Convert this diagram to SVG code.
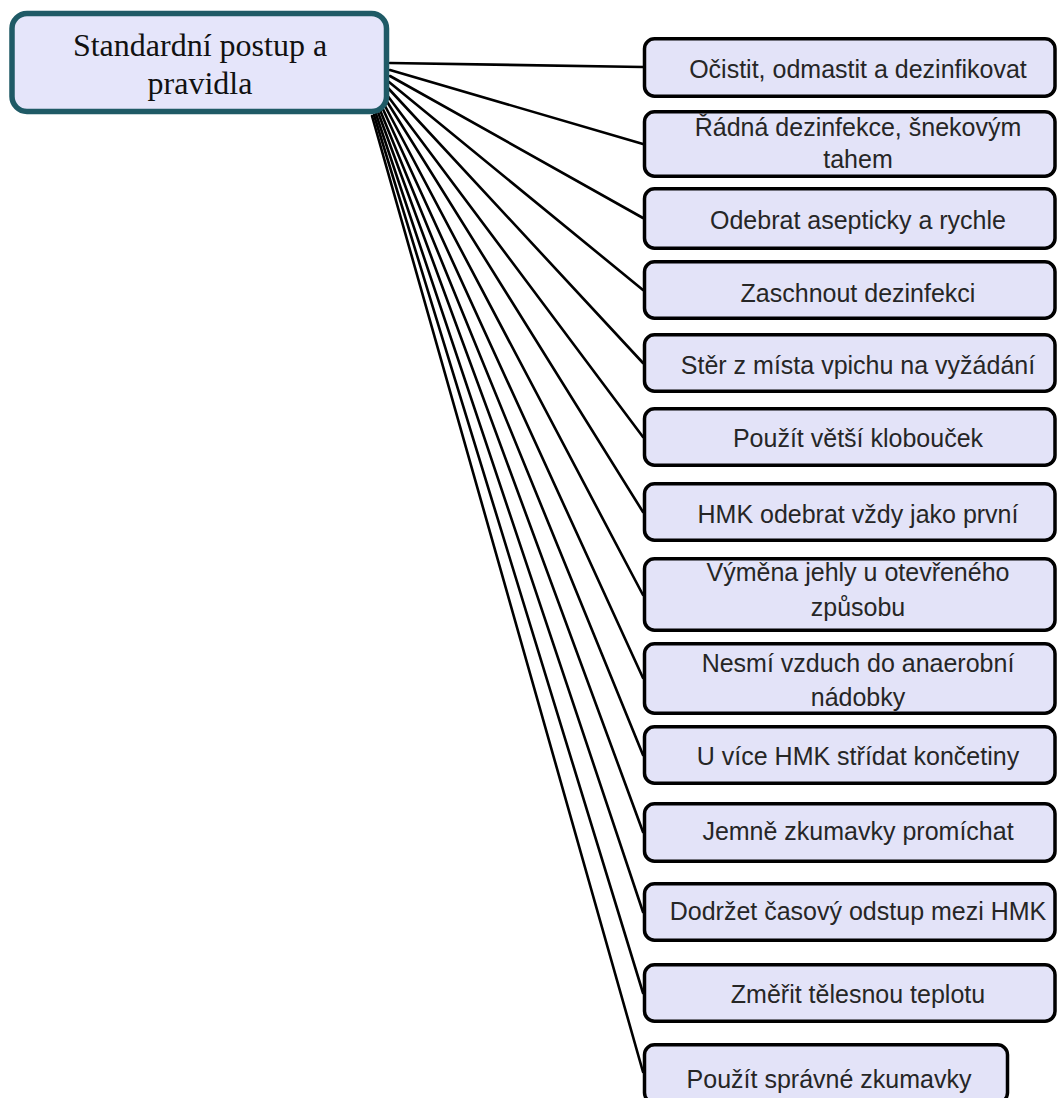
<svg xmlns="http://www.w3.org/2000/svg" width="1059" height="1098" viewBox="0 0 1059 1098">
  <style>
    .root rect { fill: #e5e5fa; stroke: #1f5a66; stroke-width: 5.5; }
    .root text { font-family: "Liberation Serif", "Times New Roman", serif; font-size: 32px; fill: #111; text-anchor: middle; }
    .step rect { fill: #e3e3f8; stroke: #000; stroke-width: 3.5; }
    .step text { font-family: "Liberation Sans", Arial, sans-serif; font-size: 25px; fill: #262626; text-anchor: middle; }
    .links line { stroke: #000; stroke-width: 2.6; stroke-linecap: round; }
  </style>
  <rect width="1059" height="1098" fill="#fff"/>

  <!-- fan of connectors from the root node to each step -->
  <g id="connectors" class="links">
    <line x1="390" y1="63" x2="643" y2="67"/>
    <line x1="390" y1="70" x2="643" y2="144"/>
    <line x1="390" y1="76" x2="643" y2="218"/>
    <line x1="389" y1="82" x2="643" y2="290"/>
    <line x1="388" y1="88" x2="643" y2="363"/>
    <line x1="387" y1="95" x2="643" y2="437"/>
    <line x1="386" y1="100" x2="643" y2="512"/>
    <line x1="384" y1="104" x2="643" y2="595"/>
    <line x1="382" y1="107" x2="643" y2="678"/>
    <line x1="380" y1="110" x2="643" y2="755"/>
    <line x1="378" y1="112" x2="643" y2="832"/>
    <line x1="376" y1="114" x2="643" y2="912"/>
    <line x1="374" y1="115" x2="643" y2="993"/>
    <line x1="372" y1="116" x2="643" y2="1072"/>
  </g>

  <g id="root" class="root">
    <rect x="12" y="13.5" width="374.5" height="98" rx="15"/>
    <text x="200" y="56">Standardní postup a</text>
    <text x="200" y="94">pravidla</text>
  </g>

  <g id="step1" class="step">
    <rect x="644.5" y="38.75" width="410.5" height="57.5" rx="10"/>
    <text x="858" y="78">Očistit, odmastit a dezinfikovat</text>
  </g>
  <g id="step2" class="step">
    <rect x="644.5" y="111.75" width="410.5" height="64.5" rx="10"/>
    <text x="858" y="136">Řádná dezinfekce, šnekovým</text>
    <text x="858" y="168">tahem</text>
  </g>
  <g id="step3" class="step">
    <rect x="644.5" y="188.75" width="410.5" height="59.5" rx="10"/>
    <text x="858" y="229">Odebrat asepticky a rychle</text>
  </g>
  <g id="step4" class="step">
    <rect x="644.5" y="261.75" width="410.5" height="56.5" rx="10"/>
    <text x="858" y="302">Zaschnout dezinfekci</text>
  </g>
  <g id="step5" class="step">
    <rect x="644.5" y="334.75" width="410.5" height="56.5" rx="10"/>
    <text x="858" y="374">Stěr z místa vpichu na vyžádání</text>
  </g>
  <g id="step6" class="step">
    <rect x="644.5" y="408.75" width="410.5" height="56.5" rx="10"/>
    <text x="858" y="447">Použít větší klobouček</text>
  </g>
  <g id="step7" class="step">
    <rect x="644.5" y="483.75" width="410.5" height="56.5" rx="10"/>
    <text x="858" y="523">HMK odebrat vždy jako první</text>
  </g>
  <g id="step8" class="step">
    <rect x="644.5" y="558.75" width="410.5" height="71.5" rx="10"/>
    <text x="858" y="581">Výměna jehly u otevřeného</text>
    <text x="858" y="616">způsobu</text>
  </g>
  <g id="step9" class="step">
    <rect x="644.5" y="643.75" width="410.5" height="69.5" rx="10"/>
    <text x="858" y="672">Nesmí vzduch do anaerobní</text>
    <text x="858" y="706">nádobky</text>
  </g>
  <g id="step10" class="step">
    <rect x="644.5" y="726.75" width="410.5" height="56.5" rx="10"/>
    <text x="858" y="765">U více HMK střídat končetiny</text>
  </g>
  <g id="step11" class="step">
    <rect x="644.5" y="803.75" width="410.5" height="57.5" rx="10"/>
    <text x="858" y="840">Jemně zkumavky promíchat</text>
  </g>
  <g id="step12" class="step">
    <rect x="644.5" y="883.75" width="410.5" height="56.5" rx="10"/>
    <text x="858" y="920">Dodržet časový odstup mezi HMK</text>
  </g>
  <g id="step13" class="step">
    <rect x="644.5" y="964.75" width="410.5" height="56.5" rx="10"/>
    <text x="858" y="1003">Změřit tělesnou teplotu</text>
  </g>
  <g id="step14" class="step">
    <rect x="644.5" y="1044.75" width="363" height="58" rx="10"/>
    <text x="829" y="1088">Použít správné zkumavky</text>
  </g>
</svg>
